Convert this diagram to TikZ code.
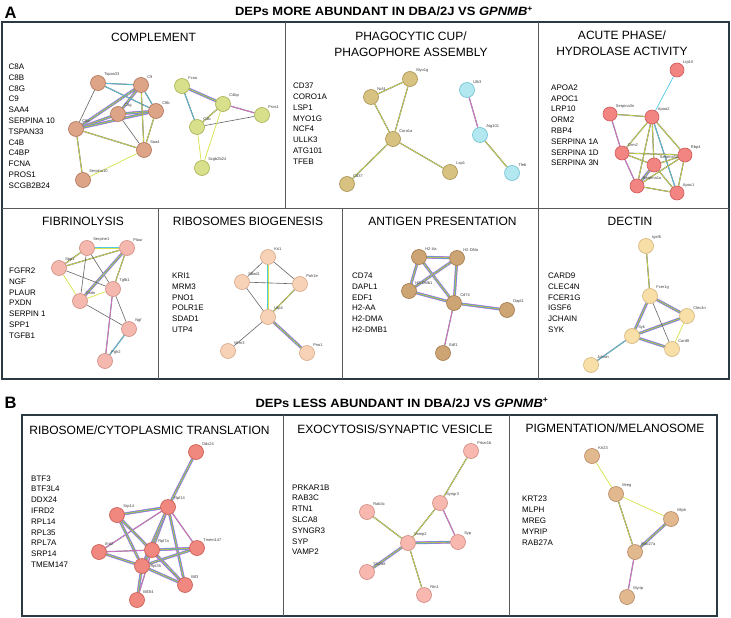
\documentclass[tikz,border=0pt]{standalone}
\usepackage{fontspec}
\setmainfont{Liberation Sans}
\usetikzlibrary{backgrounds}
\pgfdeclarelayer{edges}
\pgfsetlayers{background,edges,main}
\definecolor{frame}{HTML}{2B3A42}
\definecolor{eyel}{HTML}{D6E246}
\definecolor{ecya}{HTML}{50C8E6}
\definecolor{epin}{HTML}{E66EDC}
\definecolor{eblu}{HTML}{7C7CE8}
\tikzset{
  prot/.style={circle, minimum size=15pt, inner sep=0pt, line width=0.6pt},
  nC/.style={prot, fill={rgb,255:red,221;green,164;blue,136}, draw={rgb,255:red,176;green,116;blue,88}},
  nG/.style={prot, fill={rgb,255:red,216;green,224;blue,140}, draw={rgb,255:red,168;green,176;blue,80}},
  nO/.style={prot, fill={rgb,255:red,216;green,194;blue,130}, draw={rgb,255:red,168;green,146;blue,78}},
  nCy/.style={prot, fill={rgb,255:red,180;green,232;blue,240}, draw={rgb,255:red,108;green,192;blue,208}},
  nR/.style={prot, fill={rgb,255:red,242;green,132;blue,130}, draw={rgb,255:red,208;green,88;blue,88}},
  nP/.style={prot, fill={rgb,255:red,245;green,184;blue,174}, draw={rgb,255:red,208;green,140;blue,130}},
  nPe/.style={prot, fill={rgb,255:red,248;green,210;blue,182}, draw={rgb,255:red,214;green,168;blue,136}},
  nT/.style={prot, fill={rgb,255:red,205;green,165;blue,117}, draw={rgb,255:red,160;green,120;blue,72}},
  nCr/.style={prot, fill={rgb,255:red,248;green,223;blue,168}, draw={rgb,255:red,210;green,180;blue,120}},
  nRB/.style={prot, fill={rgb,255:red,240;green,136;blue,128}, draw={rgb,255:red,200;green,88;blue,80}},
  nE/.style={prot, fill={rgb,255:red,248;green,184;blue,176}, draw={rgb,255:red,208;green,136;blue,128}},
  nT2/.style={prot, fill={rgb,255:red,226;green,184;blue,142}, draw={rgb,255:red,180;green,134;blue,96}},
  lb/.style={font=\fontsize{4}{4}\selectfont, text=black!75, inner sep=0.6pt},
  ey/.style={draw=black!55, line width=0.3pt, double=eyel, double distance=0.6pt},
  eyl/.style={draw=eyel, line width=0.7pt},
  eg/.style={draw=black!60, line width=0.6pt},
  ec/.style={draw=black!50, line width=0.3pt, double=ecya, double distance=0.6pt},
  ecy/.style={draw=ecya, line width=0.7pt},
  ep/.style={draw=black!50, line width=0.3pt, double=epin, double distance=0.6pt},
  em/.style={draw=epin, line width=2.8pt, postaction={draw=eblu, line width=2.2pt}, postaction={draw=ecya, line width=1.6pt}, postaction={draw=black!55, line width=0.25pt, double=eyel, double distance=0.5pt}},
  lst/.style={anchor=north west, align=left, inner sep=0pt, font=\fontsize{8}{10.8}\selectfont},
  ptitle/.style={anchor=base, inner sep=0pt, font=\fontsize{12}{16.5}\selectfont, align=center},
  mtitle/.style={anchor=base, inner sep=0pt, font=\bfseries\fontsize{12}{14}\selectfont},
  letter/.style={anchor=base west, inner sep=0pt, font=\bfseries\fontsize{16.5}{18}\selectfont},
  outer/.style={draw=frame, line width=1.3pt},
  inner/.style={draw=black!65, line width=0.8pt},
}
\begin{document}
\begin{tikzpicture}[x=1pt,y=-1pt]
\begin{pgfonlayer}{background}
\fill[white] (0,0) rectangle (731,618);
\end{pgfonlayer}
\useasboundingbox (0,0) rectangle (731,618);

% ---------- frames ----------
\draw[outer] (2,22) rectangle (729,379);
\draw[inner] (2,208) -- (729,208);
\draw[inner] (285,22) -- (285,208);
\draw[inner] (538,22) -- (538,208);
\draw[inner] (158,208) -- (158,379);
\draw[inner] (342,208) -- (342,379);
\draw[inner] (538,208) -- (538,379);
\draw[outer] (22,415) rectangle (717,616);
\draw[inner] (283,415) -- (283,616);
\draw[inner] (509,415) -- (509,616);

% ---------- headings ----------
\node[letter] (la) at (4.5,18.5) {A};
\node[mtitle] (ta) at (384,15.7) {\scalebox{1.08}[1]{DEPs MORE ABUNDANT IN DBA/2J VS \textit{GPNMB}\textsuperscript{+}}};
\node[letter] (lbb) at (4.5,408.5) {B};
\node[mtitle] (tb) at (402,407) {\scalebox{1.08}[1]{DEPs LESS ABUNDANT IN DBA/2J VS \textit{GPNMB}\textsuperscript{+}}};

% ---------- panel titles ----------
\node[ptitle] (t1) at (153.5,41.5) {COMPLEMENT};
\node[ptitle] (t2) at (411,56.5) {PHAGOCYTIC CUP/\\PHAGOPHORE ASSEMBLY};
\node[ptitle] (t3) at (622,56) {ACUTE PHASE/\\HYDROLASE ACTIVITY};
\node[ptitle] (t4) at (83,225) {FIBRINOLYSIS};
\node[ptitle] (t5) at (248,225) {RIBOSOMES BIOGENESIS};
\node[ptitle] (t6) at (442.5,225) {ANTIGEN PRESENTATION};
\node[ptitle] (t7) at (630,225) {DECTIN};
\node[ptitle] (t8) at (149.5,434) {RIBOSOME/CYTOPLASMIC TRANSLATION};
\node[ptitle] (t9) at (395,433) {EXOCYTOSIS/SYNAPTIC VESICLE};
\node[ptitle] (t10) at (615,432) {PIGMENTATION/MELANOSOME};

% ---------- lists ----------
\node[lst] (l1) at (8.5,63.8) {C8A\\C8B\\C8G\\C9\\SAA4\\SERPINA 10\\TSPAN33\\C4B\\C4BP\\FCNA\\PROS1\\SCGB2B24};
\node[lst] (l2) at (293,83) {CD37\\CORO1A\\LSP1\\MYO1G\\NCF4\\ULLK3\\ATG101\\TFEB};
\node[lst] (l3) at (551,84.5) {APOA2\\APOC1\\LRP10\\ORM2\\RBP4\\SERPINA 1A\\SERPINA 1D\\SERPINA 3N};
\node[lst] (l4) at (9,267.8) {FGFR2\\NGF\\PLAUR\\PXDN\\SERPIN 1\\SPP1\\TGFB1};
\node[lst] (l5) at (172,272.8) {KRI1\\MRM3\\PNO1\\POLR1E\\SDAD1\\UTP4};
\node[lst] (l6) at (352,272.8) {CD74\\DAPL1\\EDF1\\H2-AA\\H2-DMA\\H2-DMB1};
\node[lst] (l7) at (548,272.8) {CARD9\\CLEC4N\\FCER1G\\IGSF6\\JCHAIN\\SYK};
\node[lst] (l8) at (31,475.4) {BTF3\\BTF3L4\\DDX24\\IFRD2\\RPL14\\RPL35\\RPL7A\\SRP14\\TMEM147};
\node[lst] (l9) at (292,484.4) {PRKAR1B\\RAB3C\\RTN1\\SLCA8\\SYNGR3\\SYP\\VAMP2};
\node[lst, font=\fontsize{8}{11.2}\selectfont] (l10) at (522,495.4) {KRT23\\MLPH\\MREG\\MYRIP\\RAB27A};

% ---------- complement ----------
\node[nC, label={[lb]45:Tspan33}] (tsp) at (98,83) {};
\node[nC, label={[lb]45:C9}] (c9) at (141,85) {};
\node[nC, label={[lb]45:C8g}] (c8g) at (118,114) {};
\node[nC, label={[lb]45:C8b}] (c8b) at (156,111) {};
\node[nC, label={[lb]45:C8a}] (c8a) at (76,129) {};
\node[nC, label={[lb]45:Saa4}] (saa4) at (144,150) {};
\node[nC, label={[lb]45:Serpina10}] (ser10) at (83,180) {};
\node[nG, label={[lb]45:Fcna}] (fcna) at (182,86) {};
\node[nG, label={[lb]45:C4bp}] (c4bp) at (223,104) {};
\node[nG, label={[lb]45:Pros1}] (pros1) at (262,115) {};
\node[nG, label={[lb]45:C4b}] (c4b) at (197,127) {};
\node[nG, label={[lb]45:Scgb2b24}] (scgb) at (202,168) {};

% ---------- phagocytic ----------
\node[nO, label={[lb]45:Myo1g}] (myo) at (410,79) {};
\node[nO, label={[lb]45:Ncf4}] (ncf4) at (371,97) {};
\node[nO, label={[lb]45:Coro1a}] (coro) at (393,139) {};
\node[nO, label={[lb]45:Cd37}] (cd37) at (347,184) {};
\node[nO, label={[lb]45:Lsp1}] (lsp1) at (450,172) {};
\node[nCy, label={[lb]45:Ulk3}] (ulk3) at (467,90) {};
\node[nCy, label={[lb]45:Atg101}] (atg) at (480,135) {};
\node[nCy, label={[lb]45:Tfeb}] (tfeb) at (512,173) {};

% ---------- acute phase ----------
\node[nR, minimum size=14pt, label={[lb]45:Lrp10}] (lrp10) at (677,70) {};
\node[nR, minimum size=14pt, label={[lb]45:Serpina3n}] (s3n) at (610,114) {};
\node[nR, minimum size=14pt, label={[lb]45:Apoa2}] (apoa2) at (652,117) {};
\node[nR, minimum size=14pt, label={[lb]45:Orm2}] (orm2) at (622,153) {};
\node[nR, minimum size=14pt, label={[lb]45:Rbp4}] (rbp4) at (685,155) {};
\node[nR, minimum size=14pt, label={[lb]45:Serpina1d}] (s1d) at (654,165) {};
\node[nR, minimum size=14pt, label={[lb]45:Serpina1a}] (s1a) at (637,186) {};
\node[nR, minimum size=14pt, label={[lb]45:Apoc1}] (apoc1) at (677,193) {};

% ---------- fibrinolysis ----------
\node[nP, label={[lb]45:Serpine1}] (serp1) at (87,248) {};
\node[nP, label={[lb]45:Plaur}] (plaur) at (127,248) {};
\node[nP, label={[lb]45:Spp1}] (spp1) at (59,268) {};
\node[nP, label={[lb]45:Tgfb1}] (tgfb1) at (113,289) {};
\node[nP, label={[lb]45:Pxdn}] (pxdn) at (80,301) {};
\node[nP, label={[lb]45:Ngf}] (ngf) at (129,329) {};
\node[nP, label={[lb]45:Fgfr2}] (fgfr2) at (105,361) {};

% ---------- ribosomes biogenesis ----------
\node[nPe, label={[lb]45:Kri1}] (kri1) at (268,257) {};
\node[nPe, label={[lb]45:Sdad1}] (sdad1) at (242,282) {};
\node[nPe, label={[lb]45:Polr1e}] (polr1e) at (300,284) {};
\node[nPe, label={[lb]45:Utp4}] (utp4) at (268,317) {};
\node[nPe, label={[lb]45:Mrm3}] (mrm3) at (228,351) {};
\node[nPe, label={[lb]45:Pno1}] (pno1) at (307,353) {};

% ---------- antigen presentation ----------
\node[nT, label={[lb]45:H2-Aa}] (h2aa) at (419,257) {};
\node[nT, label={[lb]45:H2-DMa}] (h2dma) at (457,258) {};
\node[nT, label={[lb]45:H2-DMb1}] (h2dmb) at (409,291) {};
\node[nT, label={[lb]45:Cd74}] (cd74) at (454,303) {};
\node[nT, label={[lb]45:Edf1}] (edf1) at (443,353) {};
\node[nT, label={[lb]45:Dapl1}] (dapl1) at (507,310) {};

% ---------- dectin ----------
\node[nCr, label={[lb]45:Igsf6}] (igsf6) at (646,246) {};
\node[nCr, label={[lb]45:Fcer1g}] (fcer) at (650,296) {};
\node[nCr, label={[lb]45:Clec4n}] (clec) at (687,316) {};
\node[nCr, label={[lb]45:Syk}] (syk) at (632,336) {};
\node[nCr, label={[lb]45:Card9}] (card9) at (672,349) {};
\node[nCr, label={[lb]45:Jchain}] (jch) at (591,365) {};

% ---------- ribosome / translation ----------
\node[nRB, label={[lb]45:Ddx24}] (ddx) at (196,452) {};
\node[nRB, label={[lb]45:Rpl14}] (rpl14) at (168,507) {};
\node[nRB, label={[lb]45:Srp14}] (srp14) at (117,515) {};
\node[nRB, label={[lb]45:Ifrd2}] (ifrd2) at (99,552) {};
\node[nRB, label={[lb]45:Rpl7a}] (rpl7a) at (152,550) {};
\node[nRB, label={[lb]45:Tmem147}] (tmem) at (197,548) {};
\node[nRB, label={[lb]0:Rpl35}] (rpl35) at (142,566) {};
\node[nRB, label={[lb]45:Btf3}] (btf3) at (185,585) {};
\node[nRB, label={[lb]45:Btf3l4}] (btf3l4) at (137,600) {};

% ---------- exocytosis ----------
\node[nE, label={[lb]45:Prkar1b}] (prk) at (471,451) {};
\node[nE, label={[lb]45:Syngr3}] (syngr3) at (440,503) {};
\node[nE, label={[lb]45:Rab3c}] (rab3c) at (367,512) {};
\node[nE, label={[lb]45:Vamp2}] (vamp2) at (408,543) {};
\node[nE, label={[lb]45:Syp}] (syp) at (458,542) {};
\node[nE, label={[lb]45:Slc2a8}] (slc) at (367,572) {};
\node[nE, label={[lb]45:Rtn1}] (rtn1) at (424,595) {};

% ---------- pigmentation ----------
\node[nT2, label={[lb]45:Krt23}] (krt23) at (592,456) {};
\node[nT2, label={[lb]45:Mreg}] (mreg) at (616,494) {};
\node[nT2, label={[lb]45:Mlph}] (mlph) at (671,519) {};
\node[nT2, label={[lb]45:Rab27a}] (rab27) at (635,552) {};
\node[nT2, label={[lb]45:Myrip}] (myrip) at (627,597) {};

\begin{pgfonlayer}{edges}
% complement
\draw[em] (c8a) -- (c8g);
\draw[em] (c8a) -- (c8b);
\draw[em] (c8g) -- (c8b);
\draw[em] (c9) -- (c8g);
\draw[em] (c8a) -- (c9);
\draw[ec] (c9) -- (c8b);
\draw[ec] (tsp) -- (c9);
\draw[ec] (tsp) -- (c8b);
\draw[eg] (tsp) -- (c8a);
\draw[eg] (c8g) -- (saa4);
\draw[ey] (c9) -- (saa4);
\draw[ey] (c8b) -- (saa4);
\draw[ey] (c8a) -- (saa4);
\draw[ey] (c8a) -- (ser10);
\draw[eyl] (saa4) -- (ser10);
\draw[em] (fcna) -- (c4bp);
\draw[ep] (c4bp) -- (pros1);
\draw[ec] (fcna) -- (c4b);
\draw[ey] (c4bp) -- (c4b);
\draw[eg] (c4b) -- (pros1);
\draw[eyl] (c4bp) -- (scgb);
\draw[eyl] (c4b) -- (scgb);
% phagocytic
\draw[ey] (ncf4) -- (myo);
\draw[ey] (ncf4) -- (coro);
\draw[ey] (myo) -- (coro);
\draw[ey] (coro) -- (cd37);
\draw[ey] (coro) -- (lsp1);
\draw[ep] (ulk3) -- (atg);
\draw[ey] (atg) -- (tfeb);
% acute phase
\draw[ecy] (lrp10) -- (apoa2);
\draw[ey] (s3n) -- (apoa2);
\draw[ep] (s3n) -- (orm2);
\draw[ep] (orm2) -- (s1a);
\draw[ey] (apoa2) -- (orm2);
\draw[ey] (apoa2) -- (rbp4);
\draw[ey] (apoa2) -- (s1d);
\draw[ey] (apoa2) -- (s1a);
\draw[ec] (apoa2) -- (apoc1);
\draw[ey] (orm2) -- (rbp4);
\draw[ey] (orm2) -- (s1d);
\draw[ey] (rbp4) -- (s1d);
\draw[ey] (rbp4) -- (s1a);
\draw[ey] (rbp4) -- (apoc1);
\draw[em] (s1d) -- (s1a);
\draw[ey] (s1d) -- (apoc1);
\draw[ey] (s1a) -- (apoc1);
% fibrinolysis
\draw[em] (serp1) -- (plaur);
\draw[ey] (serp1) -- (spp1);
\draw[ey] (plaur) -- (spp1);
\draw[eg] (serp1) -- (pxdn);
\draw[eg] (serp1) -- (tgfb1);
\draw[em] (plaur) -- (pxdn);
\draw[ey] (plaur) -- (tgfb1);
\draw[eg] (spp1) -- (tgfb1);
\draw[eyl] (spp1) -- (pxdn);
\draw[eyl] (pxdn) -- (tgfb1);
\draw[eg] (pxdn) -- (ngf);
\draw[eg] (tgfb1) -- (ngf);
\draw[ep] (tgfb1) -- (fgfr2);
\draw[ec] (ngf) -- (fgfr2);
% ribosomes biogenesis
\draw[eg] (kri1) -- (sdad1);
\draw[eg] (kri1) -- (polr1e);
\draw[em] (kri1) -- (utp4);
\draw[eg] (sdad1) -- (polr1e);
\draw[eg] (sdad1) -- (utp4);
\draw[ey] (polr1e) -- (utp4);
\draw[eg] (utp4) -- (mrm3);
\draw[em] (utp4) -- (pno1);
% antigen presentation
\draw[em] (h2aa) -- (h2dma);
\draw[em] (h2aa) -- (h2dmb);
\draw[em] (h2aa) -- (cd74);
\draw[em] (h2dma) -- (h2dmb);
\draw[em] (h2dma) -- (cd74);
\draw[em] (h2dmb) -- (cd74);
\draw[em] (cd74) -- (dapl1);
\draw[ep] (cd74) -- (edf1);
% dectin
\draw[ey] (igsf6) -- (fcer);
\draw[em] (fcer) -- (syk);
\draw[em] (fcer) -- (clec);
\draw[em] (syk) -- (clec);
\draw[em] (syk) -- (card9);
\draw[eg] (fcer) -- (card9);
\draw[eyl] (clec) -- (card9);
\draw[ec] (syk) -- (jch);
% ribosome / translation
\draw[em] (ddx) -- (rpl14);
\draw[em] (rpl14) -- (srp14);
\draw[ep] (rpl14) -- (ifrd2);
\draw[em] (rpl14) -- (rpl7a);
\draw[em] (rpl14) -- (rpl35);
\draw[em] (rpl14) -- (btf3);
\draw[ep] (rpl14) -- (tmem);
\draw[em] (srp14) -- (rpl35);
\draw[em] (srp14) -- (btf3);
\draw[ep] (ifrd2) -- (rpl7a);
\draw[em] (ifrd2) -- (rpl35);
\draw[em] (rpl7a) -- (tmem);
\draw[em] (rpl35) -- (tmem);
\draw[em] (rpl7a) -- (rpl35);
\draw[em] (rpl7a) -- (btf3);
\draw[em] (rpl35) -- (btf3);
\draw[em] (rpl35) -- (btf3l4);
\draw[ep] (rpl7a) -- (btf3l4);
% exocytosis
\draw[ey] (prk) -- (syngr3);
\draw[ey] (syngr3) -- (vamp2);
\draw[ep] (syngr3) -- (syp);
\draw[em] (vamp2) -- (syp);
\draw[ey] (rab3c) -- (vamp2);
\draw[em] (vamp2) -- (slc);
\draw[ey] (vamp2) -- (rtn1);
% pigmentation
\draw[eyl] (krt23) -- (mreg);
\draw[eyl] (mreg) -- (mlph);
\draw[ey] (mreg) -- (rab27);
\draw[em] (mlph) -- (rab27);
\draw[ep] (rab27) -- (myrip);
\end{pgfonlayer}
\end{tikzpicture}
\end{document}
